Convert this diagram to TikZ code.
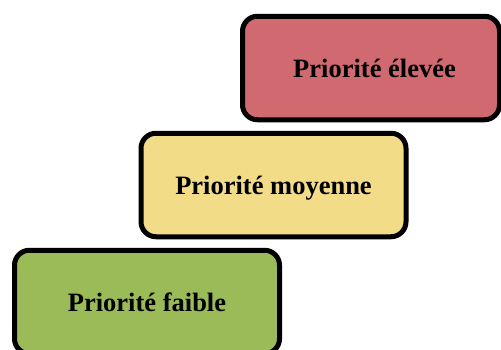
\documentclass[tikz,border=0pt]{standalone}
\usepackage{fontspec}
\setmainfont{Liberation Serif}
\definecolor{prioRed}{RGB}{208,105,112}
\definecolor{prioYellow}{RGB}{242,220,136}
\definecolor{prioGreen}{RGB}{155,187,89}
\tikzset{
  prio/.style={draw=black, line width=5pt, rounded corners=15pt, rectangle,
    minimum width=265pt, minimum height=103.5pt, inner sep=0pt,
    text height=18pt, text depth=0pt, align=center,
    font=\fontsize{26.5}{30}\selectfont\bfseries}
}
\begin{document}
\begin{tikzpicture}[x=1pt,y=-1pt]
\useasboundingbox (0,0) rectangle (501,349);
\clip (0,0) rectangle (501,349);
\node[prio, fill=prioRed, minimum width=257pt] (high) at (371,68) {\hspace*{7pt}Priorité élevée};
\node[prio, fill=prioYellow] (mid)  at (273.5,185) {Priorité moyenne};
\node[prio, fill=prioGreen]  (low)  at (147,302)   {Priorité faible};
\end{tikzpicture}
\end{document}
